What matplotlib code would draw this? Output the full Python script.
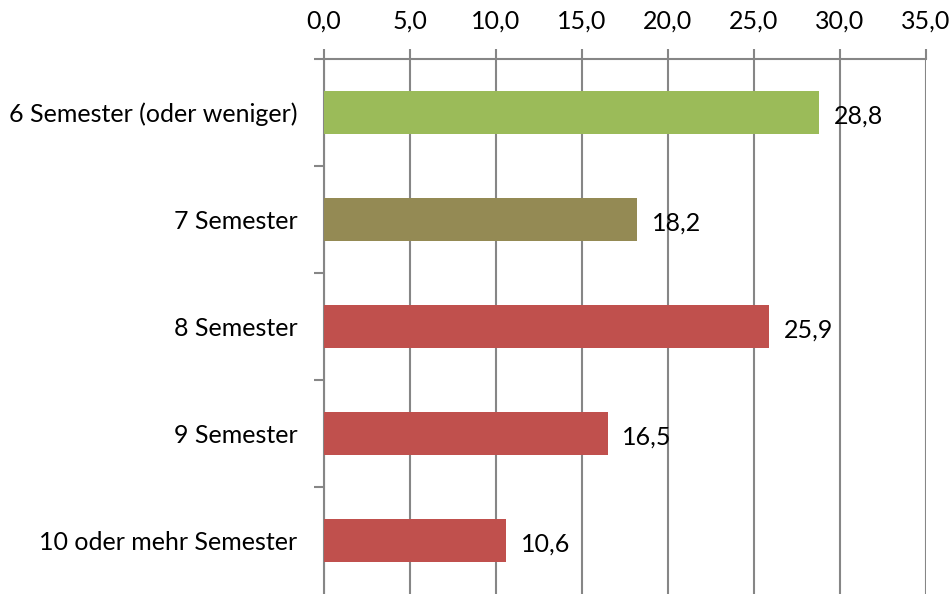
import numpy as np
import matplotlib.pyplot as plt

# Daten
kategorien = ["6 Semester (oder weniger)", "7 Semester", "8 Semester",
              "9 Semester", "10 oder mehr Semester"]
werte = [28.8, 18.2, 25.9, 16.5, 10.6]
farben = ["#9BBB59", "#948A54", "#C0504D", "#C0504D", "#C0504D"]
x_ticks = [0, 5, 10, 15, 20, 25, 30, 35]

plt.rcParams["font.family"] = ["Lato", "DejaVu Sans"]

fig = plt.figure(figsize=(9.53, 5.94), dpi=100)
ax = fig.add_axes([324 / 953, 0.0, (926 - 324) / 953, 1 - 59 / 594])

y = np.arange(len(kategorien))
ax.barh(y, werte, height=0.4, color=farben, zorder=3)

# Werte neben den Balken
for yi, w in zip(y, werte):
    ax.text(w + 0.85, yi + 0.03, f"{w:.1f}".replace(".", ","), va="center",
            ha="left", fontsize=18, zorder=4)

ax.set_xlim(0, 35)
ax.set_ylim(len(kategorien) - 0.5, -0.5)

# x-Achse oben
ax.xaxis.tick_top()
ax.set_xticks(x_ticks)
ax.set_xticklabels([f"{t:.1f}".replace(".", ",") for t in x_ticks], fontsize=18)
ax.tick_params(axis="x", length=7, width=1.5, color="#868686", pad=12)

# y-Achse: Beschriftung in der Mitte, Striche an den Grenzen
ax.set_yticks(y)
ax.set_yticklabels(kategorien, fontsize=18)
ax.tick_params(axis="y", which="major", length=0, pad=19)
ax.set_yticks(np.arange(-0.5, len(kategorien) - 0.5, 1), minor=True)
ax.tick_params(axis="y", which="minor", length=7, width=1.5, color="#868686")

ax.grid(axis="x", color="#868686", linewidth=1.5, zorder=0)
for s in ["right", "bottom"]:
    ax.spines[s].set_visible(False)
for s in ["top", "left"]:
    ax.spines[s].set_color("#868686")
    ax.spines[s].set_linewidth(1.5)

fig.savefig("out.png", dpi=100)
